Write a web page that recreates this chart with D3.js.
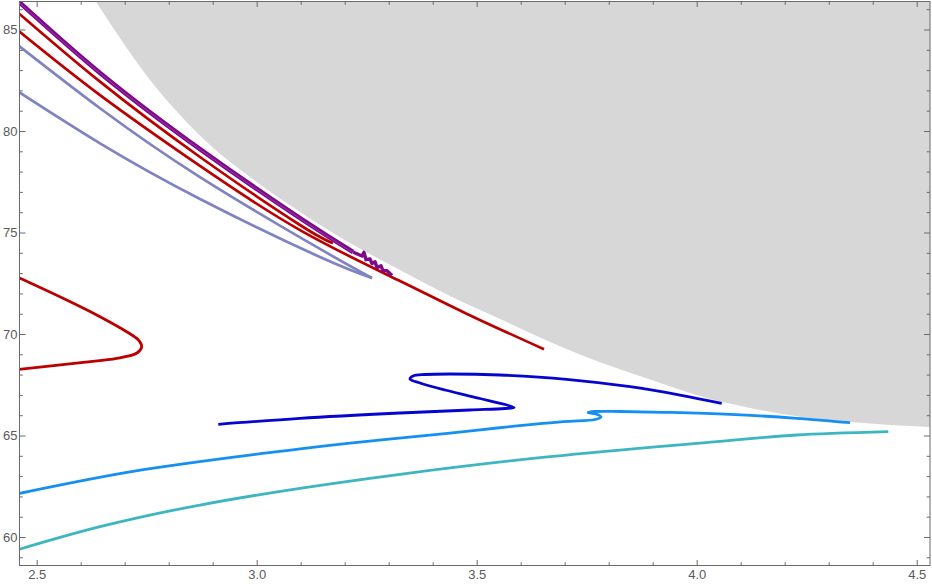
<!DOCTYPE html>
<html>
<head>
<meta charset="utf-8">
<script src="https://cdn.jsdelivr.net/npm/d3@7"></script>
<style>
  body { margin: 0; background: #fff; }
  .tick text { font-family: "Liberation Sans", Arial, sans-serif; font-size: 13px; fill: #5a5a5a; }
  .tick line { stroke: #6a6a6a; }
</style>
</head>
<body>
<svg width="932" height="584"></svg>
<script>
// tick labels
var xTicks = [2.5, 3.0, 3.5, 4.0, 4.5]
var yTicks = [60, 65, 70, 75, 80, 85]

// shaded region, lower-left boundary
var grayEdge = [[2.6325,86.45],[2.6893,84.58],[2.7575,82.51],[2.8257,80.79],[2.8939,79.31],[2.9848,77.73],
	[3.0984,76.01],[3.2120,74.48],[3.3257,73.15],[3.4393,71.87],[3.5530,70.74],[3.6666,69.61],[3.7802,68.61],
	[3.8939,67.76],[4.0075,66.95],[4.1211,66.36],[4.2348,65.92],[4.3484,65.67],[4.5302,65.42]]

var purple = [[2.455,86.45],[2.6439,82.86],[2.8711,79.11],[3.0984,75.71],[3.2189,74.04]]
var purpleTail = [[3.2189,74.04],[3.2393,73.84],[3.2439,74.02],[3.2484,73.66],[3.2575,73.70],[3.2620,73.47],
	[3.2689,73.56],[3.2734,73.27],[3.2825,73.36],[3.2870,73.12],[3.2961,73.12],[3.3075,72.88]]
var redA = [[2.455,85.88],[2.6439,82.43],[2.8711,78.72],[3.0984,75.37],[3.1734,74.48]]
var redB = [[2.455,85.0],[2.6439,81.77],[2.8711,78.28],[3.0984,75.12],[3.3257,72.61],[3.4780,70.99],[3.6530,69.25]]
var lavA = [[2.455,84.27],[2.6439,81.12],[2.8711,77.73],[3.1439,74.19],[3.2620,72.76]]
var lavB = [[2.455,81.98],[2.6439,79.39],[2.8711,76.65],[3.1439,73.79],[3.2620,72.76]]
var redLoop = [[2.455,72.82],[2.5682,71.675],[2.6439,70.852],[2.7045,70.113],[2.7302,69.729],[2.7386,69.374],
	[2.7280,69.064],[2.6818,68.803],[2.6059,68.606],[2.455,68.25]]
var darkBlue = [[2.9127,65.552],[3.0984,65.847],[3.3257,66.108],[3.4848,66.256],[3.5643,66.330],[3.5848,66.379],
	[3.5643,66.527],[3.5075,66.823],[3.4280,67.241],[3.3711,67.586],[3.3484,67.783],[3.3552,67.931],[3.3825,68.005],
	[3.4393,68.030],[3.5530,67.980],[3.7045,67.768],[3.8484,67.404],[3.9620,66.995],[4.0568,66.586]]
var lightBlue = [[2.455,62.12],[2.7189,63.23],[3.0234,64.14],[3.2507,64.71],[3.4393,65.12],[3.5462,65.37],
	[3.6968,65.68],[3.7689,65.788],[3.7825,65.911],[3.7711,66.059],[3.7530,66.133],[3.7689,66.182],[3.8257,66.182],
	[3.9241,66.143],[4.0757,66.044],[4.2273,65.847],[4.3484,65.631]]
var teal = [[2.455,59.36],[2.6439,60.507],[2.8711,61.576],[3.0984,62.399],[3.3257,63.089],[3.6666,63.956],
	[4.0455,64.695],[4.2273,65.025],[4.4355,65.187]]

function main() {
	var frameLeft = 19.5, frameRight = 930, frameTop = 1.5, frameBottom = 565.5

	var svg = d3.select("svg")

	var x = d3.scaleLinear().domain([2.4598, 4.5302]).range([19, 930])
	var y = d3.scaleLinear().domain([58.621, 86.355]).range([565, 2])

	svg.append("clipPath").attr("id", "plot")
		.append("rect")
		.attr("x", frameLeft).attr("y", frameTop)
		.attr("width", frameRight - frameLeft).attr("height", frameBottom - frameTop)

	var g = svg.append("g").attr("clip-path", "url(#plot)")

	// gray region: boundary then round the top right corner
	var corner = [[x.domain()[1] + 0.1, grayEdge[grayEdge.length - 1][1]],
		[x.domain()[1] + 0.1, y.domain()[1] + 1], [grayEdge[0][0], y.domain()[1] + 1]]
	g.append("path")
		.attr("d", d3.line().x(d => x(d[0])).y(d => y(d[1])).curve(d3.curveMonotoneX)(grayEdge)
			+ corner.map(d => "L" + x(d[0]) + "," + y(d[1])).join("") + "Z")
		.attr("fill", "#d7d7d7")

	var smooth = d3.line()
		.x(d => x(d[0]))
		.y(d => y(d[1]))
		.curve(d3.curveNatural)

	var loop = d3.line()
		.x(d => x(d[0]))
		.y(d => y(d[1]))
		.curve(d3.curveCatmullRom.alpha(0.5))

	var straight = d3.line()
		.x(d => x(d[0]))
		.y(d => y(d[1]))

	var series = [
		{data: lavB, color: "#8083c2", w: 2.7, gen: smooth},
		{data: lavA, color: "#8083c2", w: 2.7, gen: smooth},
		{data: redB, color: "#bb0000", w: 2.7, gen: smooth},
		{data: redA, color: "#bb0000", w: 2.7, gen: smooth},
		{data: purple, color: "#7e0a8b", w: 4.6, gen: smooth},
		{data: purpleTail, color: "#7e0a8b", w: 3.4, gen: straight},
		{data: redLoop, color: "#bb0000", w: 2.8, gen: loop},
		{data: teal, color: "#3db6c2", w: 2.8, gen: smooth},
		{data: lightBlue, color: "#1590f2", w: 2.8, gen: loop},
		{data: darkBlue, color: "#0505cf", w: 2.8, gen: loop}
	]

	g.selectAll(".curve")
		.data(series)
		.enter().append("path")
		.attr("class", "curve")
		.attr("d", d => d.gen(d.data))
		.attr("fill", "none")
		.attr("stroke", d => d.color)
		.attr("stroke-width", d => d.w)
		.attr("stroke-linejoin", "round")

	// thin lighter stripe inside the purple band
	g.append("path")
		.attr("d", smooth(purple))
		.attr("fill", "none")
		.attr("stroke", "#9c45ad")
		.attr("stroke-width", 0.8)
		.attr("transform", "translate(0.6,0.9)")

	// minor tick values
	var xMinor = d3.range(2.5, 4.51, 0.1).filter(v => Math.abs(v * 2 - Math.round(v * 2)) > 1e-6)
	var yMinor = d3.range(59, 87, 1).filter(v => v % 5 != 0)

	function axes(axisFn, scale, transform, major, minor, big, small, labels) {
		var a = svg.append("g").attr("transform", transform)
		a.call(axisFn(scale).tickValues(major).tickSizeInner(-big).tickSizeOuter(0)
			.tickPadding(3)
			.tickFormat(labels ? d3.format(".1f") : ""))
		a.select(".domain").remove()
		var m = svg.append("g").attr("transform", transform)
		m.call(axisFn(scale).tickValues(minor).tickSizeInner(-small).tickSizeOuter(0).tickFormat(""))
		m.select(".domain").remove()
		return a
	}

	var xa = axes(d3.axisBottom, x, "translate(0," + frameBottom + ")", xTicks, xMinor, 5.5, 3.3, true)
	xa.selectAll("text").attr("y", 4)
	axes(d3.axisTop, x, "translate(0," + frameTop + ")", xTicks, xMinor, 5.5, 3.3, false)
	var ya = axes(d3.axisLeft, y, "translate(" + frameLeft + ",0)", yTicks, yMinor, 6, 3.3, true)
	ya.selectAll("text").text(d => d).attr("x", -2)
	axes(d3.axisRight, y, "translate(" + frameRight + ",0)", yTicks, yMinor, 6, 3.3, false)

	svg.append("rect")
		.attr("x", frameLeft).attr("y", frameTop)
		.attr("width", frameRight - frameLeft).attr("height", frameBottom - frameTop)
		.attr("fill", "none")
		.attr("stroke", "#6a6a6a")
		.attr("stroke-width", 1)
}

main()
</script>
</body>
</html>
